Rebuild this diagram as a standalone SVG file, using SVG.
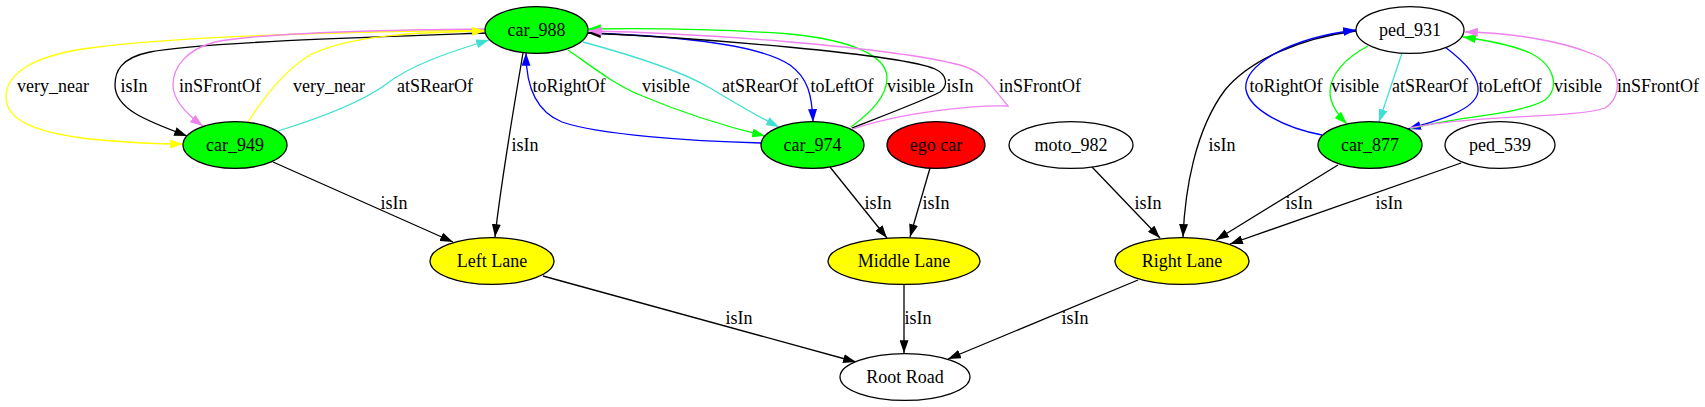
<svg xmlns="http://www.w3.org/2000/svg" width="1705" height="407" viewBox="0 0 1705 407">
<style>
text{font-family:"Liberation Serif","Times New Roman",serif;font-size:18px;fill:#000;text-anchor:middle}
.n{stroke:#000;stroke-width:1.3}
.e{fill:none;stroke-width:1.3}
.k{stroke:#000}.y{stroke:#ffff00}.v{stroke:#ee82ee}.t{stroke:#40e0d0}.g{stroke:#00ff00}.b{stroke:#0000ff}
</style>
<defs>
<marker id="mk" viewBox="0 0 10 7" refX="10" refY="3.5" markerWidth="13" markerHeight="9" markerUnits="userSpaceOnUse" orient="auto"><path d="M0,0 L10,3.5 L0,7 z" fill="#000"/></marker>
<marker id="my" viewBox="0 0 10 7" refX="10" refY="3.5" markerWidth="13" markerHeight="9" markerUnits="userSpaceOnUse" orient="auto"><path d="M0,0 L10,3.5 L0,7 z" fill="#ffff00"/></marker>
<marker id="mv" viewBox="0 0 10 7" refX="10" refY="3.5" markerWidth="13" markerHeight="9" markerUnits="userSpaceOnUse" orient="auto"><path d="M0,0 L10,3.5 L0,7 z" fill="#ee82ee"/></marker>
<marker id="mt" viewBox="0 0 10 7" refX="10" refY="3.5" markerWidth="13" markerHeight="9" markerUnits="userSpaceOnUse" orient="auto"><path d="M0,0 L10,3.5 L0,7 z" fill="#40e0d0"/></marker>
<marker id="mg" viewBox="0 0 10 7" refX="10" refY="3.5" markerWidth="13" markerHeight="9" markerUnits="userSpaceOnUse" orient="auto"><path d="M0,0 L10,3.5 L0,7 z" fill="#00ff00"/></marker>
<marker id="mb" viewBox="0 0 10 7" refX="10" refY="3.5" markerWidth="13" markerHeight="9" markerUnits="userSpaceOnUse" orient="auto"><path d="M0,0 L10,3.5 L0,7 z" fill="#0000ff"/></marker>
</defs>
<rect width="1705" height="407" fill="#fff"/>
<g id="edges">
<!-- car_988 <-> car_949 -->
<path class="e y" marker-end="url(#my)" d="M485,30 C420,31 200,33 90,48 C30,56 6,75 6,97 C6,122 40,133 90,139 C120,142 160,144 183,144"/>
<text x="53" y="92">very_near</text>
<path class="e k" marker-end="url(#mk)" d="M486,33 C400,36 200,42 150,52 C120,58 115,72 115,85 C115,110 150,122 187,136"/>
<text x="134" y="92">isIn</text>
<path class="e v" marker-end="url(#mv)" d="M485,29 C380,30 260,33 215,42 C185,50 173,68 173,85 C173,100 185,113 203,126"/>
<text x="220" y="92">inSFrontOf</text>
<path class="e y" marker-end="url(#my)" d="M248,122 C262,100 285,70 310,55 C350,35 420,32 485,31"/>
<text x="329" y="92">very_near</text>
<path class="e t" marker-end="url(#mt)" d="M278,131 C320,118 360,103 385,85 C410,65 450,52 489,40"/>
<text x="435" y="92">atSRearOf</text>
<!-- car_988 -> Left Lane -->
<path class="e k" marker-end="url(#mk)" d="M523,53 C515,100 500,190 495,237"/>
<text x="525" y="151">isIn</text>
<!-- car_988 <-> car_974 -->
<path class="e b" marker-end="url(#mb)" d="M761,143 C690,141 600,135 562,122 C532,110 526,80 526,53"/>
<text x="569" y="92">toRightOf</text>
<path class="e g" marker-end="url(#mg)" d="M568,50 C590,65 615,85 640,95 C680,112 720,125 765,136"/>
<text x="666" y="92">visible</text>
<path class="e t" marker-end="url(#mt)" d="M583,42 C620,52 680,70 710,88 C735,103 755,115 779,127"/>
<text x="760" y="92">atSRearOf</text>
<path class="e b" marker-end="url(#mb)" d="M588,33 C680,36 760,45 790,65 C808,78 812,95 813,122"/>
<text x="842" y="92">toLeftOf</text>
<path class="e g" marker-end="url(#mg)" d="M851,127 C870,113 887,97 887,78 C887,55 850,40 790,34 C720,29 650,28 588,29"/>
<text x="911" y="92">visible</text>
<path class="e k" marker-end="url(#mk)" d="M852,128 C880,117 925,100 940,92 C948,86 948,75 935,69 C900,54 700,38 588,33"/>
<text x="960" y="92">isIn</text>
<path class="e v" marker-end="url(#mv)" d="M853,129 C900,113 970,105 1008,106 C990,85 985,72 960,65 C890,47 700,33 589,31"/>
<text x="1040" y="92">inSFrontOf</text>
<!-- ped_931 / car_877 -->
<path class="e k" marker-end="url(#mk)" d="M1356,31 C1300,38 1250,60 1225,90 C1195,130 1185,190 1183,237"/>
<text x="1222" y="151">isIn</text>
<path class="e b" marker-end="url(#mb)" d="M1322,135 C1285,128 1250,110 1246,90 C1242,65 1290,38 1356,30"/>
<text x="1286" y="92">toRightOf</text>
<path class="e g" marker-end="url(#mg)" d="M1368,46 C1345,58 1330,75 1330,92 C1330,105 1338,115 1347,124"/>
<text x="1355" y="92">visible</text>
<path class="e t" marker-end="url(#mt)" d="M1402,53 L1379,122"/>
<text x="1430" y="92">atSRearOf</text>
<path class="e b" marker-end="url(#mb)" d="M1445,47 C1465,62 1480,78 1478,92 C1475,110 1440,120 1408,129"/>
<text x="1510" y="92">toLeftOf</text>
<path class="e g" marker-end="url(#mg)" d="M1410,129 C1450,117 1520,115 1545,100 C1560,88 1555,65 1530,53 C1510,44 1485,40 1463,37"/>
<text x="1578" y="92">visible</text>
<path class="e v" marker-end="url(#mv)" d="M1410,128 C1470,115 1580,118 1605,108 C1625,95 1620,65 1595,55 C1560,40 1510,33 1465,32"/>
<text x="1658" y="92">inSFrontOf</text>
<!-- to lanes -->
<path class="e k" marker-end="url(#mk)" d="M273,162 L453,242"/>
<text x="394" y="209">isIn</text>
<path class="e k" marker-end="url(#mk)" d="M830,167 L887,238"/>
<text x="878" y="209">isIn</text>
<path class="e k" marker-end="url(#mk)" d="M930,168 L910,237"/>
<text x="936" y="209">isIn</text>
<path class="e k" marker-end="url(#mk)" d="M1092,167 L1160,238"/>
<text x="1148" y="209">isIn</text>
<path class="e k" marker-end="url(#mk)" d="M1338,165 L1216,240"/>
<text x="1299" y="209">isIn</text>
<path class="e k" marker-end="url(#mk)" d="M1461,163 L1230,244"/>
<text x="1389" y="209">isIn</text>
<!-- to road -->
<path class="e k" marker-end="url(#mk)" d="M543,276 L856,362"/>
<text x="739" y="324">isIn</text>
<path class="e k" marker-end="url(#mk)" d="M904,285 L904,353"/>
<text x="918" y="324">isIn</text>
<path class="e k" marker-end="url(#mk)" d="M1138,280 L948,359"/>
<text x="1075" y="324">isIn</text>
</g>
<g id="car_988"><ellipse class="n" cx="536.5" cy="30" rx="51.5" ry="23.4" fill="#00ff00"/><text x="536.5" y="36">car_988</text></g>
<g id="car_949"><ellipse class="n" cx="235" cy="145" rx="52" ry="23.4" fill="#00ff00"/><text x="235" y="151">car_949</text></g>
<g id="car_974"><ellipse class="n" cx="812.5" cy="145" rx="51.5" ry="23.4" fill="#00ff00"/><text x="812.5" y="151">car_974</text></g>
<g id="ego_car"><ellipse class="n" cx="936" cy="145" rx="49" ry="23.4" fill="#ff0000"/><text x="936" y="151">ego car</text></g>
<g id="moto_982"><ellipse class="n" cx="1071" cy="145" rx="62" ry="23.4" fill="#fff"/><text x="1071" y="151">moto_982</text></g>
<g id="ped_931"><ellipse class="n" cx="1410" cy="30" rx="54" ry="23.4" fill="#fff"/><text x="1410" y="36">ped_931</text></g>
<g id="car_877"><ellipse class="n" cx="1370" cy="145" rx="52" ry="23.4" fill="#00ff00"/><text x="1370" y="151">car_877</text></g>
<g id="ped_539"><ellipse class="n" cx="1500" cy="145" rx="55" ry="23.4" fill="#fff"/><text x="1500" y="151">ped_539</text></g>
<g id="left_lane"><ellipse class="n" cx="492" cy="261" rx="62" ry="23.4" fill="#ffff00"/><text x="492" y="267">Left Lane</text></g>
<g id="middle_lane"><ellipse class="n" cx="904" cy="261" rx="76" ry="23.4" fill="#ffff00"/><text x="904" y="267">Middle Lane</text></g>
<g id="right_lane"><ellipse class="n" cx="1182" cy="261" rx="67" ry="23.4" fill="#ffff00"/><text x="1182" y="267">Right Lane</text></g>
<g id="root_road"><ellipse class="n" cx="905" cy="377" rx="65" ry="23.4" fill="#fff"/><text x="905" y="383">Root Road</text></g>
</svg>
